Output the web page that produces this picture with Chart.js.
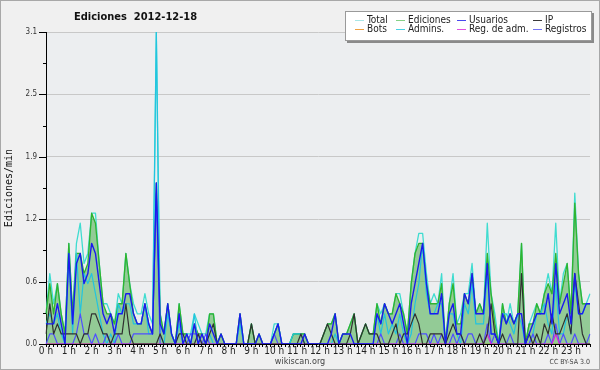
<!DOCTYPE html>
<html>
<head>
<meta charset="utf-8">
<script src="https://cdn.jsdelivr.net/npm/chart.js@4.4.1/dist/chart.umd.min.js"></script>
<style>
html,body{margin:0;padding:0;background:#f0f0f0;}
#wrap{position:relative;width:600px;height:370px;overflow:hidden;background:#f0f0f0;}
#c{position:absolute;left:0;top:0;}
#frame{position:absolute;left:0;top:0;width:600px;height:370px;box-sizing:border-box;border:1px solid #a8a8a8;pointer-events:none;}
#title{position:absolute;left:74px;top:10px;font-family:"DejaVu Sans Condensed","DejaVu Sans";font-stretch:condensed;font-weight:bold;font-size:11px;line-height:13px;white-space:pre;color:#111;}
#legend{position:absolute;left:345px;top:11px;width:245px;height:28px;background:#fff;border:1px solid #9a9a9a;box-shadow:2px 2px 0 #8a8a8a;}
.lt{position:absolute;font-family:"DejaVu Sans Condensed","DejaVu Sans";font-stretch:condensed;font-size:10px;line-height:10px;color:#222;white-space:nowrap;}
.sw{position:absolute;height:1px;width:9px;}
#site{position:absolute;left:0;width:600px;top:356px;text-align:center;font-family:"DejaVu Sans Condensed","DejaVu Sans";font-stretch:condensed;font-size:9px;line-height:10px;color:#444;}
#lic{position:absolute;right:10px;top:358px;font-family:"DejaVu Sans Condensed","DejaVu Sans";font-stretch:condensed;font-size:7px;line-height:8px;color:#444;}
</style>
</head>
<body>
<div id="wrap">
<canvas id="c" width="600" height="370"></canvas>
<div id="title">Ediciones  2012-12-18</div>
<div id="legend"></div>
<div id="site">wikiscan.org</div>
<div id="lic">CC BY-SA 3.0</div>
<div id="frame"></div>
</div>
<script>
// ---- tick labels / categories ----
const hourTicks = ['0 h','1 h','2 h','3 h','4 h','5 h','6 h','7 h','8 h','9 h','10 h','11 h',
  '12 h','13 h','14 h','15 h','16 h','17 h','18 h','19 h','20 h','21 h','22 h','23 h'];
const slotMinutes = ['00','10','20','30','40','50'];
const yTickLabelsStep = 0.31; // 3.1 / 10 (major labels every 0.62)

// ---- series (edits per minute, 10-minute slots) ----
const total = [
 0.3,0.7,0.4,0.6,0.3,0.1,1.0,0.3,1.0,1.2,0.8,0.9,
 1.3,1.3,0.8,0.4,0.4,0.3,0.2,0.5,0.4,0.9,0.6,0.4,
 0.3,0.3,0.5,0.3,0.2,3.1,0.3,0.1,0.4,0.1,0.0,0.4,
 0.1,0.1,0.1,0.3,0.2,0.1,0.1,0.3,0.3,0.0,0.1,0.0,
 0.0,0.0,0.0,0.3,0.0,0.0,0.2,0.0,0.1,0.0,0.0,0.0,
 0.2,0.2,0.0,0.0,0.0,0.1,0.1,0.1,0.1,0.0,0.0,0.0,
 0.0,0.1,0.2,0.2,0.3,0.0,0.1,0.1,0.2,0.3,0.0,0.1,
 0.2,0.1,0.1,0.4,0.3,0.4,0.3,0.3,0.5,0.5,0.3,0.1,
 0.6,0.9,1.1,1.1,0.7,0.4,0.5,0.4,0.7,0.0,0.4,0.7,
 0.2,0.3,0.5,0.5,0.8,0.3,0.4,0.3,1.2,0.5,0.3,0.0,
 0.4,0.2,0.4,0.2,0.3,1.0,0.0,0.2,0.3,0.4,0.3,0.5,
 0.7,0.5,1.2,0.4,0.7,0.8,0.3,1.5,0.7,0.4,0.4,0.5];
const ediciones = [
 0.3,0.6,0.3,0.6,0.3,0.1,1.0,0.3,0.9,0.9,0.7,0.8,
 1.3,1.2,0.8,0.4,0.3,0.3,0.2,0.4,0.4,0.9,0.6,0.3,
 0.2,0.2,0.4,0.2,0.1,1.6,0.3,0.1,0.4,0.1,0.0,0.4,
 0.1,0.1,0.0,0.2,0.1,0.1,0.0,0.3,0.3,0.0,0.1,0.0,
 0.0,0.0,0.0,0.3,0.0,0.0,0.2,0.0,0.1,0.0,0.0,0.0,
 0.1,0.2,0.0,0.0,0.0,0.1,0.1,0.1,0.1,0.0,0.0,0.0,
 0.0,0.1,0.2,0.2,0.3,0.0,0.1,0.1,0.2,0.3,0.0,0.1,
 0.2,0.1,0.1,0.4,0.2,0.4,0.3,0.3,0.5,0.4,0.3,0.1,
 0.6,0.9,1.0,1.0,0.6,0.4,0.4,0.4,0.6,0.0,0.4,0.6,
 0.2,0.2,0.5,0.4,0.7,0.3,0.4,0.3,0.9,0.5,0.2,0.0,
 0.4,0.2,0.3,0.2,0.3,1.0,0.0,0.2,0.2,0.4,0.3,0.5,
 0.6,0.5,0.9,0.4,0.6,0.8,0.3,1.4,0.7,0.4,0.4,0.4];
const usuarios = [
 0.2,0.2,0.2,0.4,0.2,0.0,0.9,0.2,0.8,0.9,0.6,0.7,
 1.0,0.9,0.6,0.3,0.2,0.3,0.1,0.3,0.3,0.5,0.5,0.3,
 0.2,0.2,0.4,0.2,0.1,1.6,0.2,0.1,0.4,0.1,0.0,0.3,
 0.0,0.1,0.0,0.2,0.0,0.1,0.0,0.2,0.1,0.0,0.1,0.0,
 0.0,0.0,0.0,0.3,0.0,0.0,0.0,0.0,0.1,0.0,0.0,0.0,
 0.1,0.2,0.0,0.0,0.0,0.0,0.0,0.0,0.1,0.0,0.0,0.0,
 0.0,0.0,0.0,0.1,0.3,0.0,0.1,0.1,0.1,0.0,0.0,0.0,
 0.0,0.0,0.0,0.3,0.2,0.4,0.3,0.2,0.3,0.4,0.2,0.0,
 0.4,0.6,0.8,1.0,0.6,0.3,0.3,0.3,0.5,0.0,0.3,0.4,
 0.1,0.1,0.5,0.4,0.7,0.3,0.3,0.3,0.8,0.1,0.1,0.0,
 0.3,0.2,0.3,0.2,0.3,0.3,0.0,0.1,0.2,0.3,0.3,0.3,
 0.5,0.2,0.8,0.3,0.4,0.5,0.2,0.7,0.3,0.3,0.4,0.4];
const ip = [
 0.1,0.4,0.1,0.2,0.1,0.1,0.1,0.1,0.1,0.0,0.1,0.1,
 0.3,0.3,0.2,0.1,0.1,0.0,0.1,0.1,0.1,0.4,0.1,0.0,
 0.0,0.0,0.0,0.0,0.0,0.0,0.1,0.0,0.0,0.0,0.0,0.1,
 0.1,0.0,0.0,0.0,0.1,0.0,0.0,0.1,0.2,0.0,0.0,0.0,
 0.0,0.0,0.0,0.0,0.0,0.0,0.2,0.0,0.0,0.0,0.0,0.0,
 0.0,0.0,0.0,0.0,0.0,0.0,0.0,0.1,0.0,0.0,0.0,0.0,
 0.0,0.1,0.2,0.1,0.0,0.0,0.0,0.0,0.1,0.3,0.0,0.1,
 0.2,0.1,0.1,0.1,0.0,0.0,0.0,0.1,0.2,0.0,0.1,0.1,
 0.2,0.3,0.2,0.0,0.0,0.1,0.1,0.1,0.1,0.0,0.1,0.2,
 0.1,0.1,0.0,0.0,0.0,0.0,0.1,0.0,0.1,0.4,0.1,0.0,
 0.1,0.0,0.0,0.0,0.0,0.7,0.0,0.1,0.0,0.1,0.0,0.2,
 0.1,0.3,0.1,0.1,0.2,0.3,0.1,0.7,0.4,0.1,0.0,0.0];
const bots = [
 0,0,0,0,0,0,0,0,0,0,0,0, 0,0,0,0,0,0,0,0,0,0,0,0,
 0,0,0,0,0,0,0,0,0,0,0,0, 0,0,0,0,0,0,0,0,0,0,0,0,
 0,0,0,0,0,0,0,0,0,0,0,0, 0,0,0,0,0,0,0,0,0,0,0,0,
 0,0,0,0,0,0,0,0,0,0,0,0, 0,0,0,0,0,0,0,0,0,0,0,0,
 0,0,0,0,0,0,0,0,0,0,0,0, 0,0,0,0,0,0,0,0,0,0,0,0,
 0,0,0,0,0,0,0,0,0,0,0,0, 0,0,0,0,0,0,0,0,0,0,0,0];
const admins = [
 0.2,0.3,0.2,0.3,0.1,0.0,0.9,0.1,0.9,0.3,0.7,0.6,
 0.7,0.5,0.3,0.1,0.0,0.1,0.0,0.4,0.3,0.4,0.4,0.2,
 0.2,0.2,0.4,0.1,0.1,3.1,0.1,0.0,0.3,0.1,0.0,0.2,
 0.0,0.1,0.0,0.3,0.0,0.0,0.0,0.1,0.0,0.0,0.0,0.0,
 0.0,0.0,0.0,0.2,0.0,0.0,0.0,0.0,0.0,0.0,0.0,0.0,
 0.1,0.2,0.0,0.0,0.0,0.1,0.1,0.1,0.0,0.0,0.0,0.0,
 0.0,0.0,0.0,0.0,0.1,0.0,0.0,0.0,0.0,0.0,0.0,0.0,
 0.0,0.0,0.0,0.3,0.1,0.3,0.1,0.2,0.1,0.3,0.1,0.0,
 0.1,0.4,0.6,1.0,0.5,0.3,0.3,0.4,0.4,0.0,0.3,0.3,
 0.1,0.0,0.4,0.3,0.6,0.2,0.2,0.2,0.7,0.1,0.1,0.0,
 0.3,0.3,0.2,0.1,0.3,0.2,0.0,0.0,0.1,0.3,0.3,0.4,
 0.2,0.1,0.6,0.1,0.1,0.3,0.1,0.6,0.3,0.3,0.4,0.4];
const regAdm = [
 0,0,0,0,0,0,0,0,0,0,0,0, 0,0,0,0,0,0,0,0,0,0,0,0,
 0,0,0,0,0,0,0,0,0,0,0,0, 0,0,0,0,0,0,0,0,0,0,0,0,
 0,0,0,0,0,0,0,0,0,0,0,0, 0,0,0,0,0,0,0,0,0,0,0,0,
 0,0,0,0,0,0,0,0,0,0,0,0, 0,0,0,0,0,0,0,0,0,0,0,0,
 0,0,0,0,0,0,0,0,0,0,0,0, 0,0,0,0,0,0,0,0,0.1,0,0,0,
 0,0,0,0,0,0,0,0,0,0,0,0, 0,0,0.1,0,0,0,0,0,0,0,0,0];
const registros = [
 0.0,0.1,0.1,0.0,0.0,0.0,0.0,0.0,0.1,0.3,0.1,0.1,
 0.0,0.1,0.0,0.0,0.1,0.0,0.0,0.1,0.0,0.0,0.0,0.1,
 0.1,0.1,0.1,0.1,0.1,1.5,0.0,0.0,0.0,0.0,0.0,0.0,
 0.0,0.0,0.1,0.1,0.1,0.0,0.1,0.0,0.0,0.0,0.0,0.0,
 0.0,0.0,0.0,0.0,0.0,0.0,0.0,0.0,0.0,0.0,0.0,0.0,
 0.1,0.0,0.0,0.0,0.0,0.0,0.0,0.0,0.0,0.0,0.0,0.0,
 0.0,0.0,0.0,0.0,0.0,0.0,0.0,0.0,0.0,0.0,0.0,0.0,
 0.0,0.0,0.0,0.0,0.1,0.0,0.0,0.0,0.0,0.1,0.0,0.0,
 0.0,0.0,0.1,0.1,0.1,0.0,0.1,0.0,0.1,0.0,0.0,0.1,
 0.0,0.1,0.0,0.1,0.1,0.0,0.0,0.0,0.2,0.0,0.1,0.0,
 0.0,0.0,0.1,0.0,0.0,0.0,0.0,0.0,0.1,0.0,0.0,0.0,
 0.1,0.0,0.2,0.0,0.1,0.0,0.0,0.1,0.0,0.0,0.0,0.1];

// ---- legend ----
const legendNames  = ['Total','Ediciones','Usuarios','IP','Bots','Admins.','Reg. de adm.','Registros'];
const legendColors = ['#a8e6e6','#86d086','#4848ee','#3a3a3a','#f0a040','#48d0e2','#e050e0','#7474f2'];
const legendTextX = [367,408,469,545];
const legendSwX = [355,396,457,533];
const legendRowY = [20,29];

const slots = [];
hourTicks.forEach((h, hi) => slotMinutes.forEach(m => slots.push(hi + ':' + m)));

const leg = document.getElementById('legend');
const wrap = document.getElementById('wrap');
legendNames.forEach((name, k) => {
  const col = k % 4, row = Math.floor(k / 4);
  const sw = document.createElement('div');
  sw.className = 'sw';
  sw.style.left = legendSwX[col] + 'px';
  sw.style.top = legendRowY[row] + 'px';
  sw.style.background = legendColors[k];
  wrap.appendChild(sw);
  const t = document.createElement('div');
  t.className = 'lt';
  t.style.left = legendTextX[col] + 'px';
  t.style.top = (legendRowY[row] - 5) + 'px';
  t.textContent = name;
  wrap.appendChild(t);
});

const bgPlugin = {
  id: 'plotBg',
  beforeDraw(chart) {
    const {ctx, chartArea: a} = chart;
    ctx.save();
    ctx.fillStyle = '#eceef0';
    ctx.fillRect(a.left, a.top, a.right - a.left, a.bottom - a.top);
    ctx.restore();
  }
};
const yTickPlugin = {
  id: 'yTickMarks',
  afterDraw(chart) {
    const s = chart.scales.y, ctx = chart.ctx;
    ctx.save();
    ctx.strokeStyle = '#000';
    ctx.lineWidth = 1;
    ctx.beginPath();
    s.ticks.forEach((t, i) => {
      const y = Math.round(s.getPixelForValue(t.value)) + 0.5;
      const len = (i % 2 === 0) ? 7 : 3;
      ctx.moveTo(s.right - len, y);
      ctx.lineTo(s.right, y);
    });
    ctx.stroke();
    ctx.restore();
  }
};

const line = (label, data, color, order, width, extra) => Object.assign({
  label, data, borderColor: color, borderWidth: width, order,
  pointRadius: 0, tension: 0, fill: false, borderJoinStyle: 'round'
}, extra || {});

new Chart(document.getElementById('c'), {
  type: 'line',
  data: {
    labels: slots,
    datasets: [
      line('Usuarios', usuarios, '#1a1aee', 1, 1.4),
      line('IP', ip, '#303030', 2, 1.2),
      line('Reg. de adm.', regAdm, '#d822d8', 3, 1.2),
      line('Registros', registros, '#4f4fff', 4, 1.2),
      line('Admins.', admins, '#22c4e0', 5, 1.2),
      line('Ediciones', ediciones, '#2fb42f', 6, 1.3, {fill: 'origin', backgroundColor: 'rgba(40,160,40,0.45)'}),
      line('Total', total, '#3fdcd0', 7, 1.3),
      line('Bots', bots, '#f0a030', 8, 1.0)
    ]
  },
  options: {
    responsive: false,
    animation: false,
    devicePixelRatio: 1,
    layout: {padding: {left: 0, right: 10, top: 32, bottom: 0}},
    plugins: {legend: {display: false}, tooltip: {enabled: false}, title: {display: false}},
    scales: {
      x: {
        type: 'category',
        offset: false,
        z: 1,
        afterFit(s) { s.height = 26; },
        grid: {drawOnChartArea: false, drawTicks: true, tickLength: 3, tickColor: '#000', offset: false},
        border: {display: true, color: '#000', width: 1},
        ticks: {
          autoSkip: false, maxRotation: 0, minRotation: 0, padding: -2,
          color: '#222',
          font: {family: '"DejaVu Sans Condensed","DejaVu Sans"', size: 10},
          callback: (v, i) => (i % 6 === 0 ? hourTicks[i / 6] : '')
        }
      },
      y: {
        min: 0, max: 3.1,
        afterFit(s) { s.width = 46; },
        grid: {
          drawTicks: false,
          color: c => (c.index % 2 === 0 && c.index > 0 ? '#c8c8c8' : 'rgba(0,0,0,0)'),
          lineWidth: 1
        },
        border: {display: true, color: '#000', width: 1},
        title: {
          display: true, text: 'Ediciones/min', color: '#111',
          font: {family: '"DejaVu Sans Mono"', size: 10},
          padding: {top: 3, bottom: 0}
        },
        ticks: {
          stepSize: yTickLabelsStep, padding: 9, color: '#333',
          font: {family: '"DejaVu Sans Condensed","DejaVu Sans"', size: 8},
          callback: (v, i) => (i % 2 === 0 ? Number(v).toFixed(1) : '')
        }
      }
    }
  },
  plugins: [bgPlugin, yTickPlugin]
});
</script>
</body>
</html>
